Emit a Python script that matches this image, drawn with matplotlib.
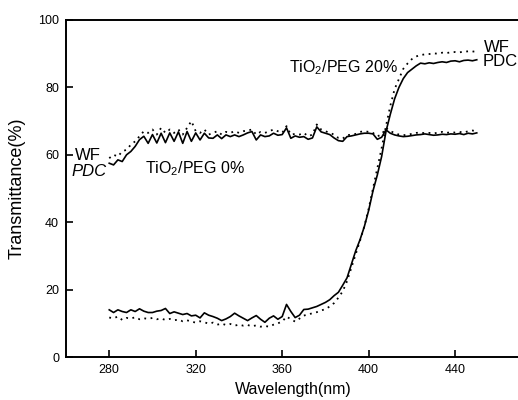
import matplotlib
matplotlib.use("Agg")
import matplotlib.pyplot as plt

plt.rcParams["font.family"] = ["Liberation Sans", "DejaVu Sans"]
plt.rcParams["mathtext.fontset"] = "custom"
plt.rcParams["mathtext.rm"] = "Liberation Sans"
plt.rcParams["mathtext.it"] = "Liberation Sans:italic"

# ─────────────────────────────────────────────
#  Data
# ─────────────────────────────────────────────
wavelength = list(range(280, 452, 2))

pdc_0 = [57.5, 57.0, 58.5, 58.0, 60.0, 61.0, 62.5, 64.5, 65.5, 63.4,
         66.0, 63.5, 66.4, 63.6, 66.5, 64.0, 66.8, 63.4, 66.9, 64.0,
         66.5, 64.4, 66.4, 65.0, 64.9, 65.9, 64.8, 65.9, 65.4, 65.9,
         65.4, 65.9, 66.5, 66.9, 64.4, 65.9, 65.4, 65.6, 66.4, 65.8,
         66.0, 68.0, 64.9, 65.6, 65.2, 65.4, 64.6, 65.0, 68.3, 66.8,
         66.4, 66.0, 65.0, 64.2, 64.0, 65.4, 65.6, 65.9, 66.2, 66.4,
         66.4, 66.2, 64.6, 65.2, 67.4, 66.4, 65.9, 65.6, 65.4, 65.5,
         65.7, 65.9, 66.0, 66.2, 66.0, 65.8, 65.9, 66.1, 66.0, 66.2,
         66.1, 66.3, 66.0, 66.4, 66.2, 66.5]

wf_0 = [59.0, 60.0, 59.5, 61.0, 61.5, 63.0, 64.0, 65.5, 67.0, 66.5,
        67.5, 66.0, 68.0, 66.5, 67.5, 66.5, 67.5, 66.0, 68.0, 70.0,
        67.0, 66.5, 67.5, 66.0, 66.5, 67.0, 66.0, 66.8, 66.5, 67.0,
        66.5, 67.0, 67.2, 67.5, 66.0, 66.8, 66.5, 67.0, 67.5, 67.0,
        66.5, 68.5, 66.0, 66.2, 66.0, 66.5, 65.5, 66.0, 69.0, 67.5,
        67.0, 66.5, 66.0, 65.0, 64.8, 65.8, 66.0, 66.2, 66.8, 67.0,
        66.8, 66.5, 65.5, 66.0, 68.0, 67.0, 66.5, 66.0, 65.8, 66.0,
        66.2, 66.5, 66.6, 66.4, 66.5, 66.3, 66.6, 66.8, 66.5, 66.7,
        66.6, 66.8, 66.6, 67.0, 67.2, 67.0]

pdc_20 = [14.0, 13.2, 14.0, 13.5, 13.2, 14.0, 13.5, 14.3, 13.6, 13.2,
          13.2, 13.6, 13.8, 14.4, 12.9, 13.4, 13.0, 12.6, 12.9, 12.2,
          12.4, 11.6, 13.1, 12.4, 12.0, 11.5, 10.8, 11.3, 12.0, 13.0,
          12.2, 11.5, 10.8, 11.6, 12.3, 11.2, 10.3, 11.5, 12.2, 11.2,
          12.0, 15.6, 13.5, 11.7, 12.4, 14.1, 14.2, 14.6, 15.0, 15.6,
          16.2, 17.0, 18.2, 19.2, 21.3, 23.5, 27.5, 31.5, 34.8, 38.7,
          43.5, 49.3, 54.0, 59.5, 66.9, 72.0, 76.6, 80.0, 82.6, 84.4,
          85.4, 86.4, 87.2, 87.0, 87.3, 87.1, 87.4, 87.6, 87.4, 87.8,
          87.9, 87.6, 88.0, 88.1, 87.9, 88.2]

wf_20 = [11.7, 11.5, 12.0, 11.0, 11.6, 11.4, 11.8, 11.2, 11.5, 11.3,
         11.6, 11.2, 11.4, 11.0, 11.3, 10.9, 11.1, 10.6, 10.9, 10.5,
         10.2, 10.6, 10.3, 9.9, 10.2, 9.6, 9.9, 9.5, 9.8, 9.3,
         9.6, 9.3, 9.5, 9.1, 9.4, 9.0, 9.2, 9.0, 9.6, 10.0,
         10.5, 12.0, 11.2, 10.5, 11.4, 12.3, 12.6, 13.0, 13.3, 13.8,
         14.2, 15.0, 16.0, 17.6, 19.5, 22.5, 26.5, 30.5, 34.5, 38.8,
         44.0, 50.0, 56.0, 62.0, 68.5, 74.5, 79.5, 82.5, 85.5, 87.1,
         88.4, 89.2, 89.6, 89.8, 89.9, 90.1, 90.0, 90.3, 90.2, 90.4,
         90.5, 90.4, 90.6, 90.7, 90.6, 90.8]

x_ticks = [280, 320, 360, 400, 440]
y_ticks = [0, 20, 40, 60, 80, 100]

# ─────────────────────────────────────────────
#  Figure
# ─────────────────────────────────────────────
fig = plt.figure(figsize=(5.18, 4.0), dpi=100)
ax = fig.add_axes([66 / 518, 43 / 400, 454 / 518, 337 / 400])

solid = dict(color="black", lw=1.2, ls="-")
dotted = dict(color="black", lw=1.3, ls=(0, (1, 2.5)))

ax.plot(wavelength, wf_0, **dotted)
ax.plot(wavelength, pdc_0, **solid)
ax.plot(wavelength, wf_20, **dotted)
ax.plot(wavelength, pdc_20, **solid)

ax.set_xlim(260, 470)
ax.set_ylim(0, 100)
ax.set_xticks(x_ticks)
ax.set_yticks(y_ticks)
ax.tick_params(direction="in", length=5, width=1.2, labelsize=9, pad=5,
               top=False, right=False)
for side in ["left", "bottom", "top"]:
    ax.spines[side].set_linewidth(1.4)
ax.spines["right"].set_visible(False)

ax.set_xlabel("Wavelength(nm)", fontsize=11.5)
ax.set_ylabel("Transmittance(%)", fontsize=13)
ax.xaxis.set_label_coords(0.5, -0.074)
ax.yaxis.set_label_coords(-0.09, 0.5)

# curve labels
txt = dict(va="center", ha="left")
ax.text(296.5, 56, "TiO$_2$/PEG 0%", fontsize=11.5, **txt)
ax.text(363, 86, "TiO$_2$/PEG 20%", fontsize=11.5, **txt)
ax.text(264, 59.8, "WF", fontsize=12, **txt)
ax.text(262.7, 55, "PDC", style="italic", fontsize=12, **txt)
ax.text(453.4, 91.8, "WF", fontsize=12, **txt)
ax.text(452.5, 87.8, "PDC", fontsize=12, **txt)

fig.savefig("out.png", dpi=100)
